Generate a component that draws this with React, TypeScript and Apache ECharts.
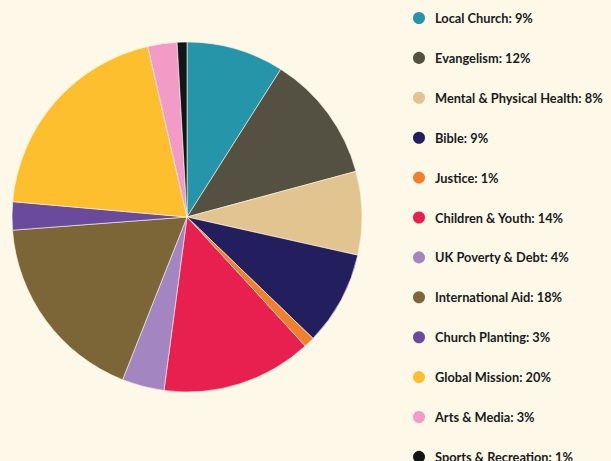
import React, { useEffect, useRef } from "react";
import * as echarts from "echarts";

const categories = [
  "Local Church",
  "Evangelism",
  "Mental & Physical Health",
  "Bible",
  "Justice",
  "Children & Youth",
  "UK Poverty & Debt",
  "International Aid",
  "Church Planting",
  "Global Mission",
  "Arts & Media",
  "Sports & Recreation",
];
const values = [9, 11.8, 7.7, 8.7, 1, 13.9, 3.9, 17.8, 2.6, 20, 2.7, 0.9];
const labelPercents = [9, 12, 8, 9, 1, 14, 4, 18, 3, 20, 3, 1];
const colors = [
  "#2596a9",
  "#545142",
  "#e1c48f",
  "#231f5e",
  "#f1802a",
  "#e8204f",
  "#a285c1",
  "#7c6536",
  "#6a4a9c",
  "#fdbf2e",
  "#f29bc6",
  "#141517",
];

export default function App() {
  const ref = useRef<HTMLDivElement>(null);
  useEffect(() => {
    document.body.style.margin = "0";
    document.body.style.background = "#fdf8e7";
    const chart = echarts.init(ref.current!, null, { renderer: "svg" });
    chart.setOption({
      animation: false,
      backgroundColor: "#fdf8e7",
      color: colors,
      legend: {
        orient: "vertical",
        left: 406,
        top: 5,
        height: 600,
        itemWidth: 14,
        itemHeight: 14,
        itemGap: 23.9,
        icon: "circle",
        selectedMode: false,
        textStyle: {
          fontFamily: "Lato",
          fontWeight: "bold",
          fontSize: 12.8,
          color: "#1b1b1b",
          padding: [0, 0, 0, 4],
        },
        formatter: (name: string) => {
          const i = categories.indexOf(name);
          return `${name}: ${labelPercents[i]}%`;
        },
        data: categories,
      },
      series: [
        {
          type: "pie",
          center: [187, 217],
          radius: 175,
          startAngle: 90,
          clockwise: true,
          label: { show: false },
          labelLine: { show: false },
          itemStyle: { borderColor: "#fdf8e7", borderWidth: 0.6 },
          emphasis: { disabled: true },
          data: categories.map((c, i) => ({ name: c, value: values[i] })),
        },
      ],
    });
    return () => chart.dispose();
  }, []);
  return (
    <div
      ref={ref}
      style={{ position: "absolute", left: 0, top: 0, width: 611, height: 461 }}
    />
  );
}
